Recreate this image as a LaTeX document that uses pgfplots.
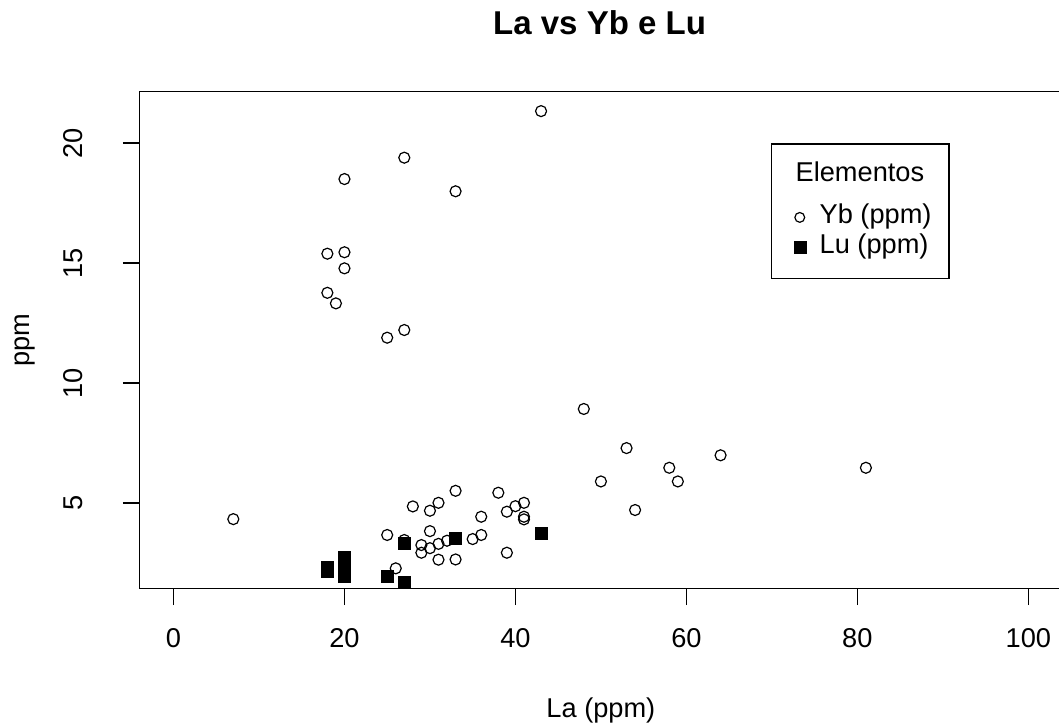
\documentclass[border=0pt]{standalone}
\usepackage{pgfplots}
\pgfplotsset{compat=1.18}
\usepackage{fontspec}
\setmainfont{Liberation Sans}
\pgfplotsset{
  legcirc/.style={legend image code/.code={\draw[mark repeat=2,mark phase=2,##1,mark size=2.45pt] plot coordinates {(0pt,0pt) (5.5pt,0pt) (11pt,0pt)};}},
  legsq/.style={legend image code/.code={\draw[mark repeat=2,mark phase=2,##1,mark size=2.95pt] plot coordinates {(0pt,0pt) (5.5pt,0pt) (11pt,0pt)};}},
}
\begin{document}
\begin{tikzpicture}[font=\fontsize{13.6}{16}\selectfont]
\path[use as bounding box] (0,0) rectangle (529.5pt,363.5pt);
\node[anchor=base, font=\fontsize{16.5}{19}\selectfont\bfseries] at (299.8pt,346pt) {La vs Yb e Lu};
\begin{axis}[
  at={(69.65pt,69.25pt)}, anchor=south west,
  scale only axis, width=461.6pt, height=248.4pt,
  xmin=-4, xmax=104, ymin=1.44, ymax=22.14,
  xtick={0,20,40,60,80,100}, ytick={5,10,15,20},
  xtick pos=left, ytick pos=left,
  tick align=outside, major tick length=8.25pt,
  tick style={black, line width=0.6pt},
  axis line style={black, line width=0.6pt},
  /pgf/number format/assume math mode=true,
  every tick label/.append style={font=\fontsize{13.6}{16}\selectfont},
  xticklabel style={anchor=base, yshift=-21.25pt},
  yticklabel style={xshift=-20.15pt, rotate=90, anchor=base},
  xlabel={La (ppm)}, ylabel={ppm},
  every axis x label/.style={at={(axis description cs:0.5,0)}, yshift=-64.5pt, anchor=base},
  every axis y label/.style={at={(axis description cs:0,0.5)}, xshift=-54.65pt, rotate=90, anchor=base},
  clip marker paths=true,
  legend cell align=left,
  legend style={at={(0.684,0.8961)}, anchor=north west, draw=black, line width=0.6pt, fill=white,
    inner xsep=8.7pt, inner ysep=9pt, row sep=1.4pt,
    nodes={inner sep=0pt, text height=10pt, text depth=3.5pt},
    font=\fontsize{13.6}{16}\selectfont},
]
\addlegendimage{empty legend}
\addlegendentry[text depth=9.6pt]{\hspace*{-5pt}Elementos}
\addplot[only marks, mark=o, mark size=2.75pt, line width=0.6pt, black, legcirc]
  coordinates {
  (7,4.33) (18,15.39) (18,13.76) (19,13.32) (20,18.5) (20,15.45) (20,14.78)
  (25,11.89) (27,12.21) (27,19.39) (33,17.99) (43,21.33)
  (48,8.92) (53,7.29) (64,6.99) (81,6.47) (58,6.47) (50,5.9) (59,5.9) (54,4.71)
  (25,3.67) (26,2.28) (27,3.46) (28,4.86) (30,4.68) (31,5.01) (30,3.83)
  (29,3.25) (29,2.93) (30,3.12) (31,3.3) (31,2.64) (32,3.43) (33,5.51) (33,2.65)
  (35,3.5) (36,3.67) (36,4.43) (38,5.43) (39,4.64) (39,2.93) (40,4.87)
  (41,5.01) (41,4.43) (41,4.32)
  };
\addlegendentry{\hspace*{7pt}Yb (ppm)}
\addplot[only marks, mark=square*, mark size=3pt, line width=0.1pt, black, fill=black, legsq]
  coordinates {
  (18,2.33) (18,2.18) (20,2.76) (20,2.37) (20,1.97) (19,1.34)
  (25,1.95) (27,1.71) (27,3.35) (33,3.56) (43,3.74)
  };
\addlegendentry{\hspace*{7pt}Lu (ppm)}
\end{axis}
\end{tikzpicture}
\end{document}
